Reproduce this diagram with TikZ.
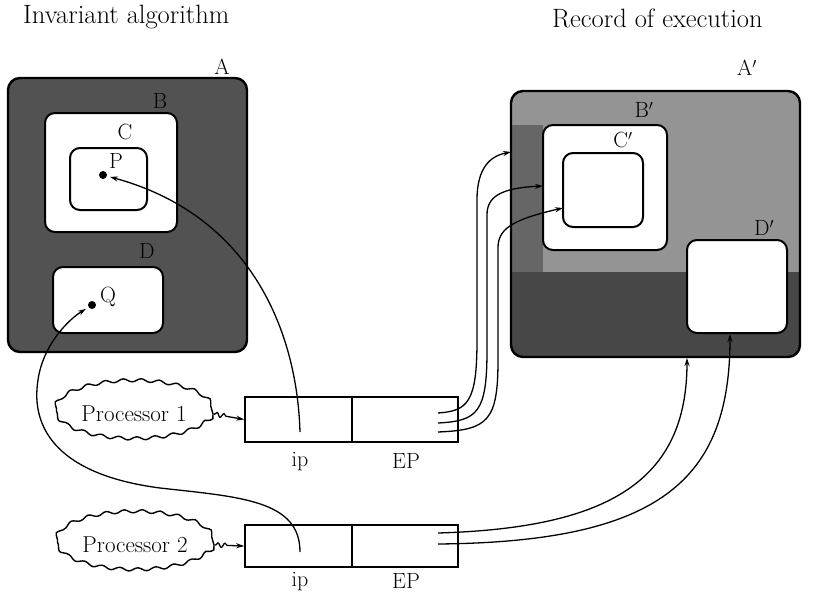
\documentclass[tikz,border=0pt]{standalone}
\usetikzlibrary{arrows.meta,shapes.geometric,decorations.pathmorphing}
\begin{document}
\begin{tikzpicture}[x=1pt,y=-1pt,
  rbox/.style={draw, rounded corners=10pt, inner sep=0pt, line width=2pt},
  cell/.style={draw, inner sep=0pt, line width=1.6pt},
  lbl/.style={font=\fontsize{22}{24}\selectfont, inner sep=0pt},
  ttl/.style={font=\fontsize{26.5}{28}\selectfont, inner sep=0pt},
  conn/.style={line width=1.3pt, -{Stealth[length=8pt,width=5pt]}},
  cloudy/.style={draw, ellipse, line width=1.4pt, minimum width=158pt, minimum height=58pt, inner sep=0pt,
     decorate, decoration={snake, amplitude=1.6pt, segment length=18pt}, font=\fontsize{23}{25}\selectfont},
  squig/.style={line width=1.3pt, -{Stealth[length=8pt,width=5pt]}, decorate,
     decoration={snake, amplitude=2.2pt, segment length=7pt, pre length=1pt, post length=16pt}}]
\useasboundingbox (0,0) rectangle (817,594);

% titles
\node[ttl, anchor=base west] (t1) at (23,24) {Invariant algorithm};
\node[ttl, anchor=base west] (t2) at (552,28) {Record of execution};

% ---- A (left) ----
\fill[black!68, rounded corners=12pt] (8,78) rectangle (247,352);
\node[rbox, rounded corners=12pt, line width=2.4pt, minimum width=239pt, minimum height=274pt] (A) at (127.5,215) {};
\node[rbox, fill=white, minimum width=132pt, minimum height=119pt] (B) at (111,172.5) {};
\node[rbox, minimum width=77pt, minimum height=62pt] (C) at (108.5,179) {};
\node[rbox, fill=white, minimum width=110pt, minimum height=66pt] (D) at (108,300) {};
\node[lbl] (lA) at (222,67) {A};
\node[lbl] (lB) at (160,101) {B};
\node[lbl] (lC) at (125,132) {C};
\node[lbl] (lP) at (116,161) {P};
\node[lbl] (lD) at (147,251) {D};
\node[lbl] (lQ) at (108,297) {Q};
\node[circle, fill=black, inner sep=0pt, minimum size=8pt] (P) at (103,175) {};
\node[circle, fill=black, inner sep=0pt, minimum size=8pt] (Q) at (92,305) {};

% ---- A' (right) ----
\fill[black!42, rounded corners=12pt] (511,91) rectangle (800,357);
\begin{scope}
  \clip[rounded corners=12pt] (511,91) rectangle (800,357);
  \fill[black!72] (511,272) rectangle (800,357);
  \fill[black!60] (511,125) rectangle (543,272);
\end{scope}
\node[rbox, rounded corners=12pt, line width=2.4pt, minimum width=289pt, minimum height=266pt] (Ap) at (655.5,224) {};
\node[rbox, fill=white, minimum width=124pt, minimum height=125pt] (Bp) at (605,187.5) {};
\node[rbox, minimum width=80pt, minimum height=74pt] (Cp) at (603,190) {};
\node[rbox, fill=white, minimum width=100pt, minimum height=93pt] (Dp) at (737,286.5) {};
\node[lbl] (lAp) at (747,68) {A$'$};
\node[lbl] (lBp) at (644,110) {B$'$};
\node[lbl] (lCp) at (623,140) {C$'$};
\node[lbl] (lDp) at (764,228) {D$'$};

% ---- processors ----
\node[cloudy] (pr1) at (134,414) {Processor 1};
\node[cloudy] (pr2) at (135,545) {Processor 2};

\node[cell, minimum width=107pt, minimum height=45pt] (ip1) at (298.5,419.5) {};
\node[cell, minimum width=106pt, minimum height=45pt] (ep1) at (405,419.5) {};
\node[cell, minimum width=107pt, minimum height=42pt] (ip2) at (298.5,546) {};
\node[cell, minimum width=106pt, minimum height=42pt] (ep2) at (405,546) {};
\node[lbl] (lip1) at (300,462) {ip};
\node[lbl] (lep1) at (406,461) {EP};
\node[lbl] (lip2) at (300,582) {ip};
\node[lbl] (lep2) at (406,581) {EP};

\draw[squig] (pr1.east) -- (ip1.west);
\draw[squig] (pr2.east) -- (ip2.west);

% ---- connectors ----
\coordinate (s1) at (300,432);
\coordinate (s2) at (300,552);
\draw[conn, shorten >=3pt] (s1) .. controls (297,330) and (250,215) .. (P);
\draw[conn, shorten >=3pt] (s2) .. controls (300,500) and (240,497) .. (160,488)
   .. controls (60,475) and (30,430) .. (38,380)
   .. controls (43,345) and (68,320) .. (Q);

\coordinate (e1) at (438,413);
\coordinate (e2) at (438,423);
\coordinate (e3) at (438,432);
\coordinate (f1) at (511,152);
\coordinate (f2) at (543,186);
\coordinate (f3) at (563,208);
\draw[conn] (e1) .. controls (468,411) and (477,402) .. (477,340) -- (477,200)
   .. controls (477,168) and (490,156) .. (f1);
\draw[conn] (e2) .. controls (478,421) and (487,412) .. (487,350) -- (487,215)
   .. controls (487,197) and (500,188) .. (f2);
\draw[conn] (e3) .. controls (488,430) and (498,421) .. (498,360) -- (498,248)
   .. controls (498,230) and (510,220) .. (f3);

\coordinate (g1) at (438,533);
\coordinate (g2) at (438,544);
\coordinate (h1) at (687,358);
\coordinate (h2) at (730,334);
\draw[conn] (g1) .. controls (610,528) and (687,480) .. (h1);
\draw[conn] (g2) .. controls (660,542) and (730,480) .. (h2);
\end{tikzpicture}
\end{document}
